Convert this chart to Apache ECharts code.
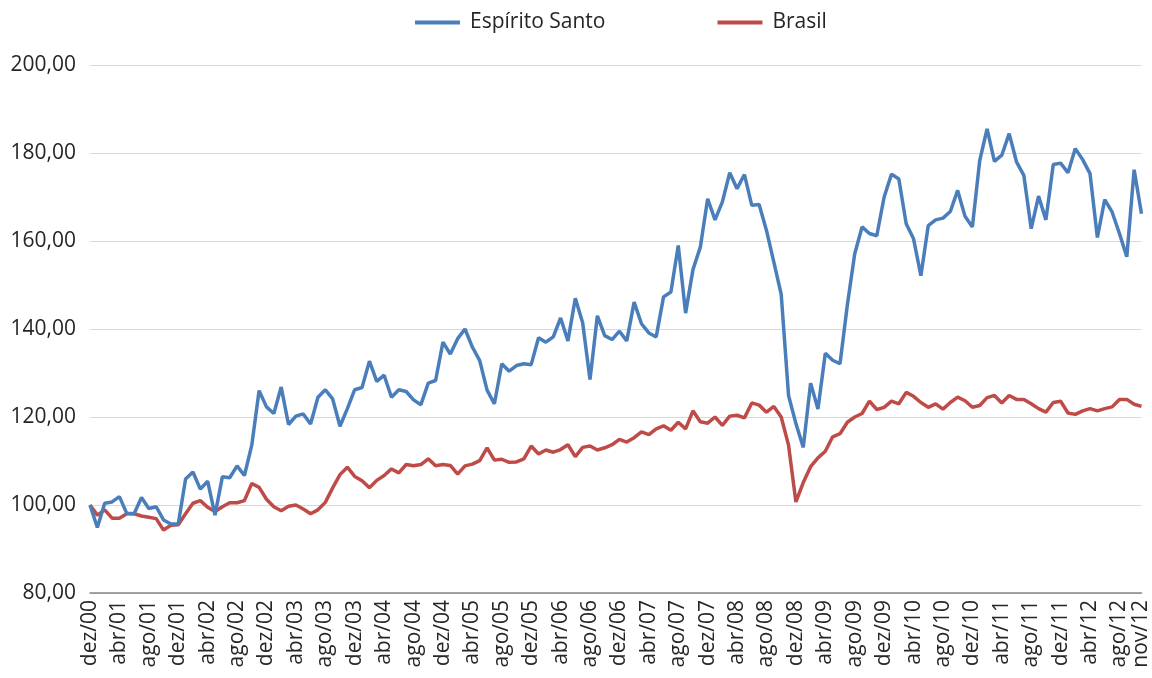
<!DOCTYPE html>
<html><head><meta charset="utf-8">
<script src="https://cdn.jsdelivr.net/npm/echarts@6/dist/echarts.min.js"></script>
<style>html,body{margin:0;padding:0;background:#fff}#c{width:1152px;height:678px}</style>
</head><body><div id="c"></div>
<script>
const monthNames = ['jan','fev','mar','abr','mai','jun','jul','ago','set','out','nov','dez'];
const startYear = 2000, startMonth = 11, nMonths = 144;
const categories = [];
for (let k = 0; k < nMonths; k++) {
  const m = (startMonth + k) % 12, y = startYear + Math.floor((startMonth + k) / 12);
  categories.push(monthNames[m] + '/' + String(y % 100).padStart(2, '0'));
}
const espiritoSanto = [
100.0,94.9,100.4,100.7,101.9,98.1,98.0,101.7,99.2,99.6,96.6,95.7,
95.7,105.9,107.5,103.6,105.4,97.7,106.4,106.2,108.9,106.7,113.6,126.0,
122.3,120.8,126.8,118.3,120.2,120.7,118.4,124.5,126.2,124.1,117.9,121.9,
126.2,126.7,132.7,128.1,129.5,124.5,126.2,125.8,123.9,122.8,127.7,128.3,
137.0,134.3,137.8,140.0,135.9,132.8,126.1,123.0,132.1,130.4,131.7,132.1,
131.9,138.0,137.0,138.2,142.5,137.3,147.0,141.4,128.5,143.0,138.5,137.6,
139.5,137.3,146.1,141.2,139.1,138.2,147.3,148.4,159.0,143.6,153.5,158.6,
169.6,164.8,168.9,175.5,171.9,175.1,168.1,168.3,162.4,155.2,147.9,124.9,
118.5,113.1,127.7,121.8,134.5,132.9,132.1,145.5,157.1,163.2,161.7,161.2,
170.0,175.2,174.1,163.9,160.5,152.1,163.5,164.8,165.2,166.7,171.5,165.6,
163.2,178.3,185.5,178.1,179.5,184.4,178.0,174.9,162.8,170.2,164.8,177.4,
177.7,175.5,181.0,178.5,175.3,160.8,169.4,166.6,161.7,156.4,176.2,166.2
];
const brasil = [
100.0,97.7,98.9,97.0,97.0,98.0,98.0,97.5,97.2,96.9,94.3,95.4,
95.5,98.0,100.4,101.0,99.5,98.5,99.6,100.5,100.5,101.0,104.9,104.0,
101.3,99.6,98.7,99.7,100.0,99.1,98.0,98.9,100.6,103.9,106.9,108.6,
106.5,105.5,103.9,105.6,106.7,108.2,107.3,109.2,108.9,109.2,110.5,108.9,
109.2,109.0,107.0,108.9,109.3,110.1,113.0,110.2,110.4,109.7,109.8,110.5,
113.4,111.6,112.5,112.0,112.6,113.7,111.0,113.1,113.4,112.5,113.0,113.7,
114.9,114.3,115.3,116.6,116.0,117.3,118.0,117.0,118.8,117.3,121.4,118.9,
118.6,120.0,118.1,120.2,120.4,119.8,123.2,122.7,121.1,122.4,120.0,113.6,
100.7,105.1,108.7,110.7,112.2,115.5,116.2,118.8,120.0,120.8,123.6,121.7,
122.2,123.6,123.0,125.6,124.7,123.3,122.2,123.0,121.8,123.3,124.5,123.7,
122.2,122.6,124.4,124.9,123.2,124.9,124.0,124.0,123.0,121.9,121.1,123.3,
123.6,120.9,120.6,121.4,121.9,121.4,121.9,122.3,124.0,124.0,122.9,122.4
];
const yTicks = [80, 100, 120, 140, 160, 180, 200];

const chart = echarts.init(document.getElementById('c'), null, {renderer: 'canvas'});
const FONT = 'Open Sans';
chart.setOption({
  animation: false,
  backgroundColor: '#fff',
  textStyle: {fontFamily: FONT},
  legend: {
    top: 7, left: 410,
    itemWidth: 45, itemHeight: 4, itemGap: 112,
    icon: 'rect',
    textStyle: {fontFamily: FONT, fontSize: 21, color: '#262626', padding: [0, 0, 0, 5]},
    data: ['Espírito Santo', 'Brasil']
  },
  grid: {left: 90, right: 5, top: 65, bottom: 85, containLabel: false},
  xAxis: {
    type: 'category', data: categories, boundaryGap: false,
    axisLine: {lineStyle: {color: '#868686', width: 1.5}},
    axisTick: {show: false},
    axisLabel: {
      rotate: 90, fontFamily: FONT, fontSize: 21, color: '#262626', margin: 7,
      interval: (i) => i % 4 === 0 || i === nMonths - 1
    },
    splitLine: {show: false}
  },
  yAxis: {
    type: 'value', min: yTicks[0], max: yTicks[yTicks.length - 1], interval: 20,
    axisLine: {show: false}, axisTick: {show: false},
    axisLabel: {fontFamily: FONT, fontSize: 21, color: '#262626', margin: 14,
      formatter: (v) => v.toFixed(2).replace('.', ',')},
    splitLine: {lineStyle: {color: '#D9D9D9', width: 1}}
  },
  series: [
    {name: 'Espírito Santo', type: 'line', data: espiritoSanto, showSymbol: false,
     lineStyle: {color: '#4A7EBB', width: 3.5}, itemStyle: {color: '#4A7EBB'}, z: 3},
    {name: 'Brasil', type: 'line', data: brasil, showSymbol: false,
     lineStyle: {color: '#BE4B48', width: 3.5}, itemStyle: {color: '#BE4B48'}, z: 2}
  ]
});
</script></body></html>
